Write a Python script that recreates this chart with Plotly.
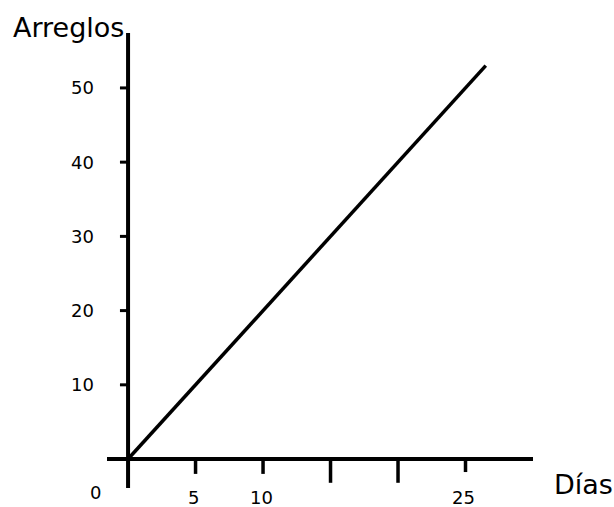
import plotly.graph_objects as go

# Data
dias = [0, 26.5]
arreglos = [0, 53]

y_ticks = [10, 20, 30, 40, 50]
y_tick_labels = ["10", "20", "30", "40", "50"]
x_ticks = [5, 10, 15, 20, 25]
x_tick_depth = [-2.0, -2.0, -3.2, -3.2, -1.75]
x_label_vals = [5, 10, 25]
x_label_text = ["5", "10", "25"]

FONT = "DejaVu Sans"
X_RANGE = [-1.56, 30]
Y_RANGE = [-3.9, 57.4]


def px(v):
    return (v - X_RANGE[0]) / (X_RANGE[1] - X_RANGE[0])


def py(v):
    return (v - Y_RANGE[0]) / (Y_RANGE[1] - Y_RANGE[0])


fig = go.Figure()
fig.add_trace(go.Scatter(x=dias, y=arreglos, mode="lines",
                         line=dict(color="black", width=3.5), cliponaxis=False,
                         showlegend=False, hoverinfo="skip"))

shapes = []
shapes.append(dict(type="line", xref="x", yref="y", x0=X_RANGE[0], x1=X_RANGE[1], y0=0, y1=0,
                   line=dict(color="black", width=4)))
shapes.append(dict(type="line", xref="x", yref="y", x0=0, x1=0, y0=Y_RANGE[0], y1=Y_RANGE[1],
                   line=dict(color="black", width=4)))
for v in y_ticks:
    shapes.append(dict(type="line", xref="x", yref="y", x0=-0.6, x1=0, y0=v, y1=v,
                       line=dict(color="black", width=3)))
for v, d in zip(x_ticks, x_tick_depth):
    shapes.append(dict(type="line", xref="x", yref="y", x0=v, x1=v, y0=0, y1=d,
                       line=dict(color="black", width=3.5)))

annotations = []
for v, t in zip(y_ticks, y_tick_labels):
    annotations.append(dict(x=px(-2.35), y=py(v), xref="paper", yref="paper", text=t,
                            showarrow=False, xanchor="right", yanchor="middle",
                            font=dict(family=FONT, size=18, color="black")))
for v, t in zip(x_label_vals, x_label_text):
    annotations.append(dict(x=px(v - 0.15), y=py(-5.2), xref="paper", yref="paper", text=t,
                            showarrow=False, xanchor="center", yanchor="middle",
                            font=dict(family=FONT, size=18, color="black")))
annotations.append(dict(x=px(-2.44), y=py(-4.5), xref="paper", yref="paper", text="0",
                        showarrow=False, xanchor="center", yanchor="middle",
                        font=dict(family=FONT, size=18, color="black")))
annotations.append(dict(x=px(31.4), y=py(-3.4), xref="paper", yref="paper", text="Días",
                        showarrow=False, xanchor="left", yanchor="middle",
                        font=dict(family=FONT, size=27, color="black")))
annotations.append(dict(x=px(-4.44), y=py(58.1), xref="paper", yref="paper", text="Arreglos",
                        showarrow=False, xanchor="center", yanchor="middle",
                        font=dict(family=FONT, size=27, color="black")))

fig.update_layout(
    width=614, height=507,
    margin=dict(l=107, r=81, t=33, b=19),
    plot_bgcolor="white", paper_bgcolor="white",
    xaxis=dict(range=X_RANGE, visible=False, fixedrange=True),
    yaxis=dict(range=Y_RANGE, visible=False, fixedrange=True),
    shapes=shapes, annotations=annotations,
    showlegend=False,
)

fig.write_html(
    "out.html",
    config={"displayModeBar": False, "staticPlot": True},
    post_script="document.body.style.margin='0';document.body.style.overflow='hidden';"
                "document.documentElement.style.overflow='hidden';",
)
